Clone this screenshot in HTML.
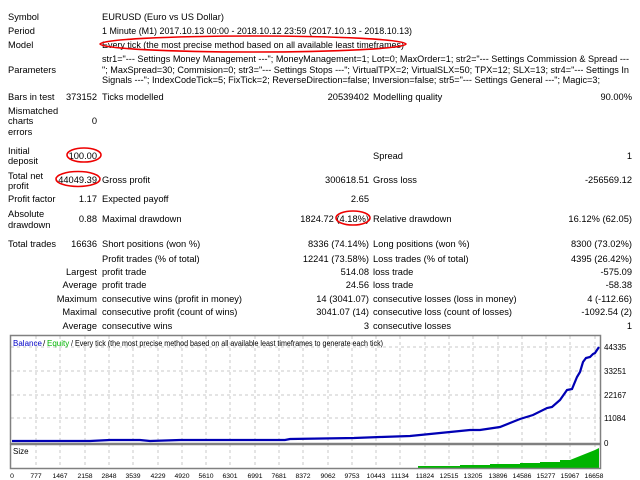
<!DOCTYPE html>
<html><head><meta charset="utf-8"><style>
html,body{margin:0;padding:0;background:#fff;width:640px;height:480px;overflow:hidden}
svg text{font-family:"Liberation Sans",Arial,sans-serif;font-size:9.3px;fill:#000}
svg .s8 text, svg text.s8{font-size:8px}
svg .s7 text{font-size:6.8px}
</style></head><body>
<svg width="640" height="480" viewBox="0 0 640 480" xmlns="http://www.w3.org/2000/svg">
<g>
<text x="8" y="20">Symbol</text>
<text x="102" y="20">EURUSD (Euro vs US Dollar)</text>
<text x="8" y="34">Period</text>
<text x="102" y="34" textLength="310" lengthAdjust="spacingAndGlyphs">1 Minute (M1) 2017.10.13 00:00 - 2018.10.12 23:59 (2017.10.13 - 2018.10.13)</text>
<text x="8" y="48">Model</text>
<text x="102" y="48" textLength="302" lengthAdjust="spacingAndGlyphs">Every tick (the most precise method based on all available least timeframes)</text>
<ellipse cx="253" cy="44" rx="153" ry="8" fill="none" stroke="#e00" stroke-width="1.6"/>
<text x="8" y="73">Parameters</text>
<text x="102" y="62" textLength="527" lengthAdjust="spacingAndGlyphs">str1="--- Settings Money Management ---"; MoneyManagement=1; Lot=0; MaxOrder=1; str2="--- Settings Commission &amp; Spread ---</text>
<text x="102" y="73" textLength="527" lengthAdjust="spacingAndGlyphs">"; MaxSpread=30; Commision=0; str3="--- Settings Stops ---"; VirtualTPX=2; VirtualSLX=50; TPX=12; SLX=13; str4="--- Settings In</text>
<text x="102" y="83" textLength="498" lengthAdjust="spacingAndGlyphs">Signals ---"; IndexCodeTick=5; FixTick=2; ReverseDirection=false; Inversion=false; str5="--- Settings General ---"; Magic=3;</text>
<text x="8" y="100">Bars in test</text>
<text x="97" y="100" text-anchor="end">373152</text>
<text x="102" y="100">Ticks modelled</text>
<text x="369" y="100" text-anchor="end">20539402</text>
<text x="373" y="100">Modelling quality</text>
<text x="632" y="100" text-anchor="end">90.00%</text>
<text x="8" y="114">Mismatched</text>
<text x="8" y="124">charts</text>
<text x="8" y="135">errors</text>
<text x="97" y="124" text-anchor="end">0</text>

<text x="8" y="154">Initial</text>
<text x="8" y="164">deposit</text>
<text x="97" y="159" text-anchor="end">100.00</text>
<ellipse cx="84" cy="155" rx="17" ry="7" fill="none" stroke="#e00" stroke-width="1.6"/>
<text x="373" y="159">Spread</text>
<text x="632" y="159" text-anchor="end">1</text>

<text x="8" y="179">Total net</text>
<text x="8" y="189">profit</text>
<text x="97" y="183" text-anchor="end">44049.39</text>
<ellipse cx="78" cy="179" rx="22" ry="7.5" fill="none" stroke="#e00" stroke-width="1.6"/>
<text x="102" y="183">Gross profit</text>
<text x="369" y="183" text-anchor="end">300618.51</text>
<text x="373" y="183">Gross loss</text>
<text x="632" y="183" text-anchor="end">-256569.12</text>

<text x="8" y="202">Profit factor</text>
<text x="97" y="202" text-anchor="end">1.17</text>
<text x="102" y="202">Expected payoff</text>
<text x="369" y="202" text-anchor="end">2.65</text>

<text x="8" y="217">Absolute</text>
<text x="8" y="228">drawdown</text>
<text x="97" y="222" text-anchor="end">0.88</text>
<text x="102" y="222">Maximal drawdown</text>
<text x="369" y="222" text-anchor="end">1824.72 (4.18%)</text>
<ellipse cx="353" cy="218" rx="17" ry="7" fill="none" stroke="#e00" stroke-width="1.6"/>
<text x="373" y="222">Relative drawdown</text>
<text x="632" y="222" text-anchor="end">16.12% (62.05)</text>

<text x="8" y="247">Total trades</text>
<text x="97" y="247" text-anchor="end">16636</text>
<text x="102" y="247">Short positions (won %)</text>
<text x="369" y="247" text-anchor="end">8336 (74.14%)</text>
<text x="373" y="247">Long positions (won %)</text>
<text x="632" y="247" text-anchor="end">8300 (73.02%)</text>

<text x="102" y="262">Profit trades (% of total)</text>
<text x="369" y="262" text-anchor="end">12241 (73.58%)</text>
<text x="373" y="262">Loss trades (% of total)</text>
<text x="632" y="262" text-anchor="end">4395 (26.42%)</text>

<text x="97" y="275" text-anchor="end">Largest</text>
<text x="102" y="275">profit trade</text>
<text x="369" y="275" text-anchor="end">514.08</text>
<text x="373" y="275">loss trade</text>
<text x="632" y="275" text-anchor="end">-575.09</text>

<text x="97" y="288" text-anchor="end">Average</text>
<text x="102" y="288">profit trade</text>
<text x="369" y="288" text-anchor="end">24.56</text>
<text x="373" y="288">loss trade</text>
<text x="632" y="288" text-anchor="end">-58.38</text>

<text x="97" y="302" text-anchor="end">Maximum</text>
<text x="102" y="302">consecutive wins (profit in money)</text>
<text x="369" y="302" text-anchor="end">14 (3041.07)</text>
<text x="373" y="302">consecutive losses (loss in money)</text>
<text x="632" y="302" text-anchor="end">4 (-112.66)</text>

<text x="97" y="315" text-anchor="end">Maximal</text>
<text x="102" y="315">consecutive profit (count of wins)</text>
<text x="369" y="315" text-anchor="end">3041.07 (14)</text>
<text x="373" y="315">consecutive loss (count of losses)</text>
<text x="632" y="315" text-anchor="end">-1092.54 (2)</text>

<text x="97" y="329" text-anchor="end">Average</text>
<text x="102" y="329">consecutive wins</text>
<text x="369" y="329" text-anchor="end">3</text>
<text x="373" y="329">consecutive losses</text>
<text x="632" y="329" text-anchor="end">1</text>
</g>

<!-- chart -->
<g stroke="#c8c8c8" stroke-width="1" stroke-dasharray="3,3">
<line x1="11" y1="347" x2="600" y2="347"/><line x1="11" y1="371" x2="600" y2="371"/>
<line x1="11" y1="395" x2="600" y2="395"/><line x1="11" y1="418" x2="600" y2="418"/>
<line x1="36" y1="336" x2="36" y2="468"/><line x1="60" y1="336" x2="60" y2="468"/><line x1="85" y1="336" x2="85" y2="468"/><line x1="109" y1="336" x2="109" y2="468"/><line x1="133" y1="336" x2="133" y2="468"/><line x1="158" y1="336" x2="158" y2="468"/><line x1="182" y1="336" x2="182" y2="468"/><line x1="206" y1="336" x2="206" y2="468"/><line x1="230" y1="336" x2="230" y2="468"/><line x1="255" y1="336" x2="255" y2="468"/><line x1="279" y1="336" x2="279" y2="468"/><line x1="303" y1="336" x2="303" y2="468"/><line x1="328" y1="336" x2="328" y2="468"/><line x1="352" y1="336" x2="352" y2="468"/><line x1="376" y1="336" x2="376" y2="468"/><line x1="400" y1="336" x2="400" y2="468"/><line x1="425" y1="336" x2="425" y2="468"/><line x1="449" y1="336" x2="449" y2="468"/><line x1="473" y1="336" x2="473" y2="468"/><line x1="498" y1="336" x2="498" y2="468"/><line x1="522" y1="336" x2="522" y2="468"/><line x1="546" y1="336" x2="546" y2="468"/><line x1="570" y1="336" x2="570" y2="468"/><line x1="595" y1="336" x2="595" y2="468"/>
</g>
<polygon points="418,468 418,466 460,466 460,465 490,465 490,464 520,464 520,463 540,463 540,462 560,462 560,460 570,460 575,458 580,456 585,454 590,452 595,450 599,448 599,468" fill="#00b400"/>
<polyline points="12,441 90,441 110,440 140,440 150,441 180,440 240,440 285,440 290,439 354,438 380,437 410,436 430,434 450,432 470,430 480,430 500,427 520,419 533,415 547,408 552,407 560,400 567,390 572,389 577,377 580,372 583,362 586,358 590,357 593,354 595,353 599,347" fill="none" stroke="#0000b4" stroke-width="2.2"/>
<rect x="10.5" y="335.5" width="590" height="108" fill="none" stroke="#808080" stroke-width="1.5"/>
<rect x="10.5" y="444.5" width="590" height="24" fill="none" stroke="#808080" stroke-width="1.5"/>
<g class="s8">
<text x="13" y="346" fill="#0000c8" style="fill:#0000c8">Balance</text>
<text x="43" y="346">/</text>
<text x="47" y="346" style="fill:#00b400">Equity</text>
<text x="71" y="346" textLength="312" lengthAdjust="spacingAndGlyphs">/ Every tick (the most precise method based on all available least timeframes to generate each tick)</text>
<text x="13" y="454">Size</text>
<text x="604" y="350">44335</text><text x="604" y="374">33251</text><text x="604" y="398">22167</text><text x="604" y="421">11084</text><text x="604" y="446">0</text>
</g>
<g class="s7" text-anchor="middle">
<text x="12" y="478">0</text><text x="36" y="478">777</text><text x="60" y="478">1467</text><text x="85" y="478">2158</text><text x="109" y="478">2848</text><text x="133" y="478">3539</text><text x="158" y="478">4229</text><text x="182" y="478">4920</text><text x="206" y="478">5610</text><text x="230" y="478">6301</text><text x="255" y="478">6991</text><text x="279" y="478">7681</text><text x="303" y="478">8372</text><text x="328" y="478">9062</text><text x="352" y="478">9753</text><text x="376" y="478">10443</text><text x="400" y="478">11134</text><text x="425" y="478">11824</text><text x="449" y="478">12515</text><text x="473" y="478">13205</text><text x="498" y="478">13896</text><text x="522" y="478">14586</text><text x="546" y="478">15277</text><text x="570" y="478">15967</text><text x="594" y="478">16658</text>
</g>
</svg>
</body></html>
